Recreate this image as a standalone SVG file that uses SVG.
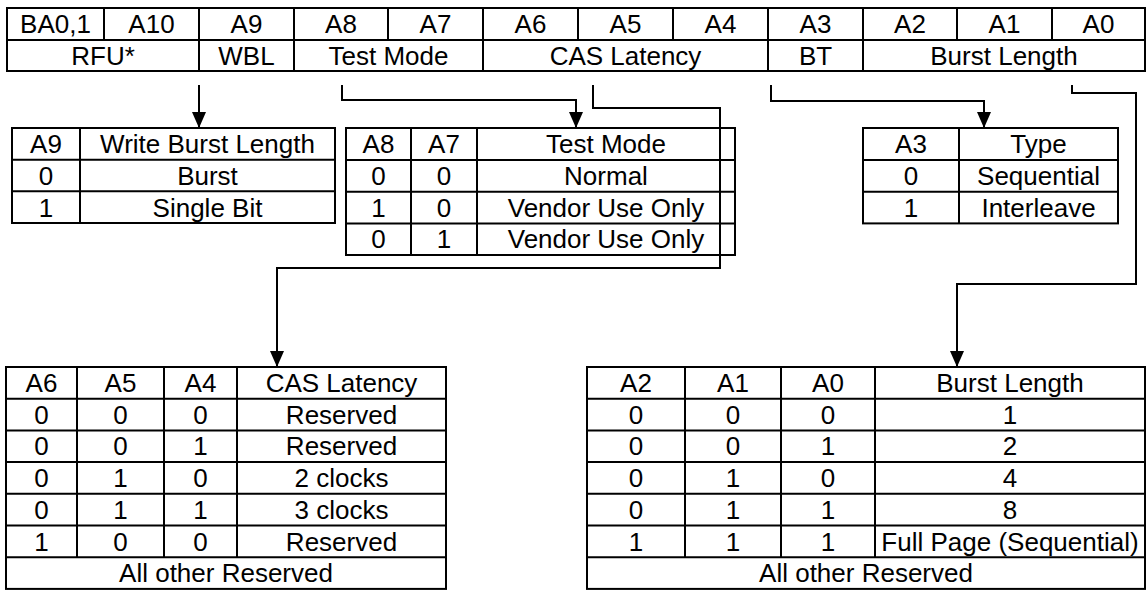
<svg xmlns="http://www.w3.org/2000/svg" width="1147" height="592" viewBox="0 0 1147 592">
<defs>
<style>
.b{fill:none;stroke:#000;stroke-width:2}
.l{stroke:#000;stroke-width:2}
.c{fill:none;stroke:#000;stroke-width:2}
text{font-family:"Liberation Sans",Arial,sans-serif;font-size:26px;fill:#000;text-anchor:middle}
</style>
<marker id="ah" markerUnits="userSpaceOnUse" markerWidth="16" markerHeight="14" refX="16" refY="7" orient="auto">
<path d="M0,0 L16,7 L0,14 z" fill="#000"/>
</marker>
</defs>
<rect width="1147" height="592" fill="#fff"/>

<g id="register">
<rect class="b" x="7" y="8" width="1138" height="63"/>
<line class="l" x1="7" y1="40" x2="1145" y2="40"/>
<line class="l" x1="104" y1="8" x2="104" y2="40"/>
<line class="l" x1="199" y1="8" x2="199" y2="71"/>
<line class="l" x1="294" y1="8" x2="294" y2="71"/>
<line class="l" x1="388" y1="8" x2="388" y2="40"/>
<line class="l" x1="483" y1="8" x2="483" y2="71"/>
<line class="l" x1="578" y1="8" x2="578" y2="40"/>
<line class="l" x1="673" y1="8" x2="673" y2="40"/>
<line class="l" x1="768" y1="8" x2="768" y2="71"/>
<line class="l" x1="863" y1="8" x2="863" y2="71"/>
<line class="l" x1="957" y1="8" x2="957" y2="40"/>
<line class="l" x1="1052" y1="8" x2="1052" y2="40"/>
<text x="55.5" y="33">BA0,1</text>
<text x="151.5" y="33">A10</text>
<text x="246.5" y="33">A9</text>
<text x="341" y="33">A8</text>
<text x="435.5" y="33">A7</text>
<text x="530.5" y="33">A6</text>
<text x="625.5" y="33">A5</text>
<text x="720.5" y="33">A4</text>
<text x="815.5" y="33">A3</text>
<text x="910" y="33">A2</text>
<text x="1004.5" y="33">A1</text>
<text x="1098.5" y="33">A0</text>
<text x="103" y="65">RFU*</text>
<text x="246.5" y="65">WBL</text>
<text x="388.5" y="65">Test Mode</text>
<text x="625.5" y="65">CAS Latency</text>
<text x="815.5" y="65">BT</text>
<text x="1004" y="65">Burst Length</text>
</g>

<g id="wbl-table">
<rect class="b" x="12" y="128" width="323" height="95"/>
<line class="l" x1="12" y1="159.7" x2="335" y2="159.7"/>
<line class="l" x1="12" y1="191.3" x2="335" y2="191.3"/>
<line class="l" x1="80" y1="128" x2="80" y2="223"/>
<text x="46" y="153">A9</text>
<text x="207.5" y="153">Write Burst Length</text>
<text x="46" y="185">0</text>
<text x="207.5" y="185">Burst</text>
<text x="46" y="216.5">1</text>
<text x="207.5" y="216.5">Single Bit</text>
</g>

<g id="testmode-table">
<rect class="b" x="346" y="128" width="389" height="127"/>
<line class="l" x1="346" y1="160" x2="735" y2="160"/>
<line class="l" x1="346" y1="191.7" x2="735" y2="191.7"/>
<line class="l" x1="346" y1="223.4" x2="735" y2="223.4"/>
<line class="l" x1="411" y1="128" x2="411" y2="255"/>
<line class="l" x1="477" y1="128" x2="477" y2="255"/>
<text x="378.5" y="153">A8</text>
<text x="444" y="153">A7</text>
<text x="606" y="153">Test Mode</text>
<text x="378.5" y="185">0</text>
<text x="444" y="185">0</text>
<text x="606" y="185">Normal</text>
<text x="378.5" y="216.5">1</text>
<text x="444" y="216.5">0</text>
<text x="606" y="216.5">Vendor Use Only</text>
<text x="378.5" y="248">0</text>
<text x="444" y="248">1</text>
<text x="606" y="248">Vendor Use Only</text>
</g>

<g id="type-table">
<rect class="b" x="863" y="128" width="255" height="95.4"/>
<line class="l" x1="863" y1="160" x2="1118" y2="160"/>
<line class="l" x1="863" y1="191.7" x2="1118" y2="191.7"/>
<line class="l" x1="959" y1="128" x2="959" y2="223.4"/>
<text x="911" y="153">A3</text>
<text x="1038.5" y="153">Type</text>
<text x="911" y="185">0</text>
<text x="1038.5" y="185">Sequential</text>
<text x="911" y="216.5">1</text>
<text x="1038.5" y="216.5">Interleave</text>
</g>

<g id="cas-table">
<rect class="b" x="6" y="367" width="440" height="221.9"/>
<line class="l" x1="6" y1="398.7" x2="446" y2="398.7"/>
<line class="l" x1="6" y1="430.4" x2="446" y2="430.4"/>
<line class="l" x1="6" y1="462.1" x2="446" y2="462.1"/>
<line class="l" x1="6" y1="493.8" x2="446" y2="493.8"/>
<line class="l" x1="6" y1="525.5" x2="446" y2="525.5"/>
<line class="l" x1="6" y1="557.2" x2="446" y2="557.2"/>
<line class="l" x1="77" y1="367" x2="77" y2="557.2"/>
<line class="l" x1="164" y1="367" x2="164" y2="557.2"/>
<line class="l" x1="237" y1="367" x2="237" y2="557.2"/>
<text x="41.5" y="392">A6</text><text x="120.5" y="392">A5</text><text x="200.5" y="392">A4</text><text x="341.5" y="392">CAS Latency</text>
<text x="41.5" y="423.7">0</text><text x="120.5" y="423.7">0</text><text x="200.5" y="423.7">0</text><text x="341.5" y="423.7">Reserved</text>
<text x="41.5" y="455.4">0</text><text x="120.5" y="455.4">0</text><text x="200.5" y="455.4">1</text><text x="341.5" y="455.4">Reserved</text>
<text x="41.5" y="487.1">0</text><text x="120.5" y="487.1">1</text><text x="200.5" y="487.1">0</text><text x="341.5" y="487.1">2 clocks</text>
<text x="41.5" y="518.8">0</text><text x="120.5" y="518.8">1</text><text x="200.5" y="518.8">1</text><text x="341.5" y="518.8">3 clocks</text>
<text x="41.5" y="550.5">1</text><text x="120.5" y="550.5">0</text><text x="200.5" y="550.5">0</text><text x="341.5" y="550.5">Reserved</text>
<text x="226" y="582.2">All other Reserved</text>
</g>

<g id="burst-table">
<rect class="b" x="587" y="367" width="558" height="221.9"/>
<line class="l" x1="587" y1="398.7" x2="1145" y2="398.7"/>
<line class="l" x1="587" y1="430.4" x2="1145" y2="430.4"/>
<line class="l" x1="587" y1="462.1" x2="1145" y2="462.1"/>
<line class="l" x1="587" y1="493.8" x2="1145" y2="493.8"/>
<line class="l" x1="587" y1="525.5" x2="1145" y2="525.5"/>
<line class="l" x1="587" y1="557.2" x2="1145" y2="557.2"/>
<line class="l" x1="685" y1="367" x2="685" y2="557.2"/>
<line class="l" x1="781" y1="367" x2="781" y2="557.2"/>
<line class="l" x1="875" y1="367" x2="875" y2="557.2"/>
<text x="636" y="392">A2</text><text x="733" y="392">A1</text><text x="828" y="392">A0</text><text x="1010" y="392">Burst Length</text>
<text x="636" y="423.7">0</text><text x="733" y="423.7">0</text><text x="828" y="423.7">0</text><text x="1010" y="423.7">1</text>
<text x="636" y="455.4">0</text><text x="733" y="455.4">0</text><text x="828" y="455.4">1</text><text x="1010" y="455.4">2</text>
<text x="636" y="487.1">0</text><text x="733" y="487.1">1</text><text x="828" y="487.1">0</text><text x="1010" y="487.1">4</text>
<text x="636" y="518.8">0</text><text x="733" y="518.8">1</text><text x="828" y="518.8">1</text><text x="1010" y="518.8">8</text>
<text x="636" y="550.5">1</text><text x="733" y="550.5">1</text><text x="828" y="550.5">1</text><text x="1010" y="550.5">Full Page (Sequential)</text>
<text x="866" y="582.2">All other Reserved</text>
</g>

<g id="connectors">
<path class="c" d="M199,85 V128" marker-end="url(#ah)"/>
<path class="c" d="M342,85 V100 H576 V128" marker-end="url(#ah)"/>
<path class="c" d="M593,85 V108 H720 V268 H277 V367" marker-end="url(#ah)"/>
<path class="c" d="M771,85 V101 H984 V128" marker-end="url(#ah)"/>
<path class="c" d="M1072,85 V93 H1136 V284 H957 V367" marker-end="url(#ah)"/>
</g>
</svg>
